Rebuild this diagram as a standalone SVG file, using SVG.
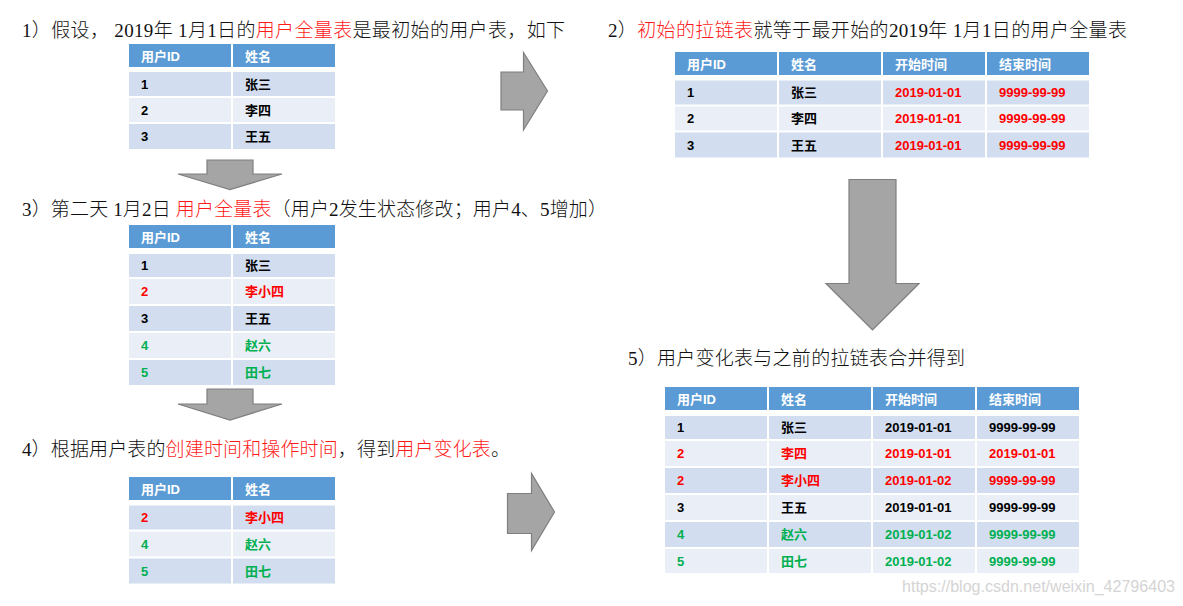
<svg xmlns="http://www.w3.org/2000/svg" width="1183" height="606" viewBox="0 0 1183 606">
<style>
.cap{font-family:"Liberation Serif","Noto Sans CJK SC",serif;font-size:19px;font-weight:300;fill:#111}
.hl{fill:#FF1A1A}
.hd{fill:#5B9BD5}
.r1{fill:#D2DEEF}
.r2{fill:#EAEFF7}
.t{font-family:"Liberation Sans","Noto Sans CJK SC",sans-serif;font-size:13px;font-weight:bold;fill:#000}
.th{fill:#fff}
.red{fill:#FF0000}
.grn{fill:#00B050}
.arw{fill:#A5A5A5;stroke:#7F7F7F;stroke-width:1.2;stroke-linejoin:miter}
.wm{font-family:"Liberation Sans",sans-serif;font-size:16px;fill:#D4D4D4}
</style>

<!-- captions -->
<g id="captions">
<text class="cap" x="22" y="37" xml:space="preserve" textLength="543" lengthAdjust="spacing">1）假设， 2019年 1月1日的<tspan class="hl">用户全量表</tspan>是最初始的用户表，如下</text>
<text class="cap" x="608" y="37" xml:space="preserve" textLength="519" lengthAdjust="spacing">2）<tspan class="hl">初始的拉链表</tspan>就等于最开始的2019年 1月1日的用户全量表</text>
<text class="cap" x="22" y="216" xml:space="preserve" textLength="585" lengthAdjust="spacing">3）第二天 1月2日 <tspan class="hl">用户全量表</tspan>（用户2发生状态修改；用户4、5增加）</text>
<text class="cap" x="22" y="456" xml:space="preserve" textLength="488" lengthAdjust="spacing">4）根据用户表的<tspan class="hl">创建时间和操作时间</tspan>，得到<tspan class="hl">用户变化表</tspan>。</text>
<text class="cap" x="628" y="365" xml:space="preserve" textLength="337" lengthAdjust="spacing">5）用户变化表与之前的拉链表合并得到</text>
</g>

<!-- table 1 -->
<g id="table1">
<rect class="hd" x="129" y="44" width="102" height="23"/><rect class="hd" x="233" y="44" width="102" height="23"/>
<rect class="r1" x="129" y="72" width="102" height="24"/><rect class="r1" x="233" y="72" width="102" height="24"/>
<rect class="r2" x="129" y="98" width="102" height="24"/><rect class="r2" x="233" y="98" width="102" height="24"/>
<rect class="r1" x="129" y="124" width="102" height="25"/><rect class="r1" x="233" y="124" width="102" height="25"/>
<text class="t th" x="141" y="60.5">用户ID</text><text class="t th" x="245" y="60.5">姓名</text>
<text class="t" x="141" y="88.5">1</text><text class="t" x="245" y="88.5">张三</text>
<text class="t" x="141" y="114.5">2</text><text class="t" x="245" y="114.5">李四</text>
<text class="t" x="141" y="141">3</text><text class="t" x="245" y="141">王五</text>
</g>

<!-- table 2 -->
<g id="table2">
<rect class="hd" x="675" y="52" width="102" height="23"/><rect class="hd" x="779" y="52" width="102" height="23"/><rect class="hd" x="883" y="52" width="102" height="23"/><rect class="hd" x="987" y="52" width="102" height="23"/>
<rect class="r1" x="675" y="80.5" width="102" height="24"/><rect class="r1" x="779" y="80.5" width="102" height="24"/><rect class="r1" x="883" y="80.5" width="102" height="24"/><rect class="r1" x="987" y="80.5" width="102" height="24"/>
<rect class="r2" x="675" y="106.5" width="102" height="24"/><rect class="r2" x="779" y="106.5" width="102" height="24"/><rect class="r2" x="883" y="106.5" width="102" height="24"/><rect class="r2" x="987" y="106.5" width="102" height="24"/>
<rect class="r1" x="675" y="132.5" width="102" height="25"/><rect class="r1" x="779" y="132.5" width="102" height="25"/><rect class="r1" x="883" y="132.5" width="102" height="25"/><rect class="r1" x="987" y="132.5" width="102" height="25"/>
<text class="t th" x="687" y="68.5">用户ID</text><text class="t th" x="791" y="68.5">姓名</text><text class="t th" x="895" y="68.5">开始时间</text><text class="t th" x="999" y="68.5">结束时间</text>
<text class="t" x="687" y="97">1</text><text class="t" x="791" y="97">张三</text><text class="t red" x="895" y="97">2019-01-01</text><text class="t red" x="999" y="97">9999-99-99</text>
<text class="t" x="687" y="123">2</text><text class="t" x="791" y="123">李四</text><text class="t red" x="895" y="123">2019-01-01</text><text class="t red" x="999" y="123">9999-99-99</text>
<text class="t" x="687" y="149.5">3</text><text class="t" x="791" y="149.5">王五</text><text class="t red" x="895" y="149.5">2019-01-01</text><text class="t red" x="999" y="149.5">9999-99-99</text>
</g>

<!-- table 3 -->
<g id="table3">
<rect class="hd" x="129" y="225" width="102" height="23"/><rect class="hd" x="233" y="225" width="102" height="23"/>
<rect class="r1" x="129" y="254" width="102" height="23"/><rect class="r1" x="233" y="254" width="102" height="23"/>
<rect class="r2" x="129" y="279" width="102" height="25"/><rect class="r2" x="233" y="279" width="102" height="25"/>
<rect class="r1" x="129" y="306" width="102" height="25"/><rect class="r1" x="233" y="306" width="102" height="25"/>
<rect class="r2" x="129" y="333" width="102" height="25"/><rect class="r2" x="233" y="333" width="102" height="25"/>
<rect class="r1" x="129" y="360" width="102" height="25"/><rect class="r1" x="233" y="360" width="102" height="25"/>
<text class="t th" x="141" y="241.5">用户ID</text><text class="t th" x="245" y="241.5">姓名</text>
<text class="t" x="141" y="270">1</text><text class="t" x="245" y="270">张三</text>
<text class="t red" x="141" y="296">2</text><text class="t red" x="245" y="296">李小四</text>
<text class="t" x="141" y="323">3</text><text class="t" x="245" y="323">王五</text>
<text class="t grn" x="141" y="350">4</text><text class="t grn" x="245" y="350">赵六</text>
<text class="t grn" x="141" y="377">5</text><text class="t grn" x="245" y="377">田七</text>
</g>

<!-- table 4 -->
<g id="table4">
<rect class="hd" x="129" y="477" width="102" height="23"/><rect class="hd" x="233" y="477" width="102" height="23"/>
<rect class="r1" x="129" y="505.5" width="102" height="24"/><rect class="r1" x="233" y="505.5" width="102" height="24"/>
<rect class="r2" x="129" y="531.5" width="102" height="25"/><rect class="r2" x="233" y="531.5" width="102" height="25"/>
<rect class="r1" x="129" y="558.5" width="102" height="25"/><rect class="r1" x="233" y="558.5" width="102" height="25"/>
<text class="t th" x="141" y="493.5">用户ID</text><text class="t th" x="245" y="493.5">姓名</text>
<text class="t red" x="141" y="522">2</text><text class="t red" x="245" y="522">李小四</text>
<text class="t grn" x="141" y="548.5">4</text><text class="t grn" x="245" y="548.5">赵六</text>
<text class="t grn" x="141" y="575.5">5</text><text class="t grn" x="245" y="575.5">田七</text>
</g>

<!-- table 5 -->
<g id="table5">
<rect class="hd" x="665" y="387" width="102" height="23"/><rect class="hd" x="769" y="387" width="102" height="23"/><rect class="hd" x="873" y="387" width="102" height="23"/><rect class="hd" x="977" y="387" width="102" height="23"/>
<rect class="r1" x="665" y="416" width="102" height="23"/><rect class="r1" x="769" y="416" width="102" height="23"/><rect class="r1" x="873" y="416" width="102" height="23"/><rect class="r1" x="977" y="416" width="102" height="23"/>
<rect class="r2" x="665" y="441" width="102" height="25"/><rect class="r2" x="769" y="441" width="102" height="25"/><rect class="r2" x="873" y="441" width="102" height="25"/><rect class="r2" x="977" y="441" width="102" height="25"/>
<rect class="r1" x="665" y="468" width="102" height="25"/><rect class="r1" x="769" y="468" width="102" height="25"/><rect class="r1" x="873" y="468" width="102" height="25"/><rect class="r1" x="977" y="468" width="102" height="25"/>
<rect class="r2" x="665" y="495" width="102" height="25"/><rect class="r2" x="769" y="495" width="102" height="25"/><rect class="r2" x="873" y="495" width="102" height="25"/><rect class="r2" x="977" y="495" width="102" height="25"/>
<rect class="r1" x="665" y="522" width="102" height="25"/><rect class="r1" x="769" y="522" width="102" height="25"/><rect class="r1" x="873" y="522" width="102" height="25"/><rect class="r1" x="977" y="522" width="102" height="25"/>
<rect class="r2" x="665" y="549" width="102" height="24"/><rect class="r2" x="769" y="549" width="102" height="24"/><rect class="r2" x="873" y="549" width="102" height="24"/><rect class="r2" x="977" y="549" width="102" height="24"/>
<text class="t th" x="677" y="403.5">用户ID</text><text class="t th" x="781" y="403.5">姓名</text><text class="t th" x="885" y="403.5">开始时间</text><text class="t th" x="989" y="403.5">结束时间</text>
<text class="t" x="677" y="432">1</text><text class="t" x="781" y="432">张三</text><text class="t" x="885" y="432">2019-01-01</text><text class="t" x="989" y="432">9999-99-99</text>
<text class="t red" x="677" y="458">2</text><text class="t red" x="781" y="458">李四</text><text class="t red" x="885" y="458">2019-01-01</text><text class="t red" x="989" y="458">2019-01-01</text>
<text class="t red" x="677" y="485">2</text><text class="t red" x="781" y="485">李小四</text><text class="t red" x="885" y="485">2019-01-02</text><text class="t red" x="989" y="485">9999-99-99</text>
<text class="t" x="677" y="512">3</text><text class="t" x="781" y="512">王五</text><text class="t" x="885" y="512">2019-01-01</text><text class="t" x="989" y="512">9999-99-99</text>
<text class="t grn" x="677" y="539">4</text><text class="t grn" x="781" y="539">赵六</text><text class="t grn" x="885" y="539">2019-01-02</text><text class="t grn" x="989" y="539">9999-99-99</text>
<text class="t grn" x="677" y="565.5">5</text><text class="t grn" x="781" y="565.5">田七</text><text class="t grn" x="885" y="565.5">2019-01-02</text><text class="t grn" x="989" y="565.5">9999-99-99</text>
</g>

<!-- connectors (block arrows) -->
<g id="connectors">
<polygon class="arw" points="207,160 253,160 253,174 282,174 230,189.5 178,174 207,174"/>
<polygon class="arw" points="207,389 253,389 253,404 282,404 230,420 178,404 207,404"/>
<polygon class="arw" points="501,72 523.5,72 523.5,52.5 547.5,91 523.5,130 523.5,110 501,110"/>
<polygon class="arw" points="507.5,493.5 531.5,493.5 531.5,473.5 554.5,512 531.5,550.5 531.5,533.5 507.5,533.5"/>
<polygon class="arw" points="849,179.5 896,179.5 896,283.5 919,283.5 872.5,330 826,283.5 849,283.5"/>
</g>

<text class="wm" x="902" y="592" textLength="273" lengthAdjust="spacingAndGlyphs">https://blog.csdn.net/weixin_42796403</text>
</svg>
